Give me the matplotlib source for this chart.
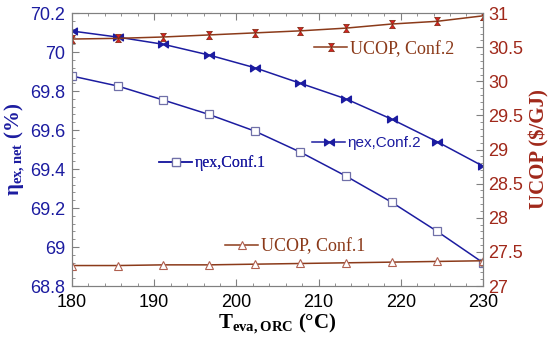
import numpy as np
import matplotlib
matplotlib.use("Agg")
import matplotlib.pyplot as plt
from matplotlib.path import Path
from matplotlib.ticker import MultipleLocator

# data
t_eva = np.linspace(180, 230, 10)
eta_conf1 = [69.877, 69.826, 69.754, 69.68, 69.595, 69.487, 69.364, 69.23, 69.08, 68.92]
eta_conf2 = [70.108, 70.077, 70.04, 69.985, 69.92, 69.84, 69.76, 69.656, 69.54, 69.415]
ucop_conf1 = [27.30, 27.30, 27.31, 27.31, 27.32, 27.33, 27.34, 27.35, 27.36, 27.37]
ucop_conf2 = [30.62, 30.63, 30.65, 30.68, 30.71, 30.74, 30.78, 30.84, 30.88, 30.96]

blue = "#1c1ca0"
brown = "#8b3a1a"
red_lbl = "#a0281a"

plt.rcParams["mathtext.fontset"] = "custom"
plt.rcParams["mathtext.rm"] = "Liberation Serif"
plt.rcParams["mathtext.bf"] = "Liberation Serif:bold"

# bowtie markers
bowtie_h = Path([(-1, -0.7), (0, 0), (-1, 0.7), (-1, -0.7),
                 (1, -0.7), (0, 0), (1, 0.7), (1, -0.7)],
                [1, 2, 2, 79, 1, 2, 2, 79])
bowtie_v = Path([(-0.7, -1), (0, 0), (0.7, -1), (-0.7, -1),
                 (-0.7, 1), (0, 0), (0.7, 1), (-0.7, 1)],
                [1, 2, 2, 79, 1, 2, 2, 79])

fig = plt.figure(figsize=(5.5, 3.45), dpi=100)
ax = fig.add_axes([0.131, 0.171, 0.747, 0.791])
ax2 = ax.twinx()

l1, = ax.plot(t_eva, eta_conf1, color=blue, lw=1.1, marker="s", ms=6,
              mfc="white", mec="#7070a8", mew=0.9, label="ηex,Conf.1")
l2, = ax.plot(t_eva, eta_conf2, color=blue, lw=1.1, marker=bowtie_h, ms=7,
              mfc=blue, mec=blue, label="ηex,Conf.2")
l3, = ax2.plot(t_eva, ucop_conf1, color=brown, lw=1.1, marker="^", ms=5.5,
               mfc="white", mec="#b06050", mew=0.8, label="UCOP, Conf.1")
l4, = ax2.plot(t_eva, ucop_conf2, color=brown, lw=1.1, marker=bowtie_v, ms=6,
               mfc="#d82020", mec="#7a2a10", mew=0.5, label="UCOP, Conf.2")

ax.set_xlim(180, 230)
ax.set_ylim(68.8, 70.2)
ax2.set_ylim(27, 31)
ax.xaxis.set_major_locator(MultipleLocator(10))
ax.xaxis.set_minor_locator(MultipleLocator(2))
ax.yaxis.set_minor_locator(MultipleLocator(0.04))
ax2.yaxis.set_minor_locator(MultipleLocator(0.1))

ax.set_yticks(np.arange(68.8, 70.21, 0.2))
ax.set_yticklabels(["68.8", "69", "69.2", "69.4", "69.6", "69.8", "70", "70.2"])
ax2.set_yticks(np.arange(27, 31.01, 0.5))
ax2.set_yticklabels(["27", "27.5", "28", "28.5", "29", "29.5", "30", "30.5", "31"])

ax.tick_params(axis="x", which="both", direction="in", top=True, colors="#808080",
               labelcolor="black", labelsize=13, pad=6)
ax.tick_params(axis="x", which="major", length=5)
ax.tick_params(axis="x", which="minor", length=2.5)
ax.tick_params(axis="y", which="both", direction="in", colors="#808080",
               labelcolor=blue, labelsize=13, pad=5)
ax.tick_params(axis="y", which="major", length=5)
ax.tick_params(axis="y", which="minor", length=2.5)
ax2.tick_params(axis="y", which="both", direction="in", colors="#808080",
                labelcolor=red_lbl, labelsize=13, pad=4)
ax2.tick_params(axis="y", which="major", length=5)
ax2.tick_params(axis="y", which="minor", length=2.5)
for lab in ax.get_xticklabels() + ax.get_yticklabels() + ax2.get_yticklabels():
    lab.set_family("Liberation Sans")
for a in (ax, ax2):
    for s in a.spines.values():
        s.set_color("#808080")

ax.set_xlabel(r"T$_{\mathbf{eva,ORC}}$ (°C)", family="Liberation Serif",
              fontweight="bold", fontsize=15, labelpad=0)
ax.set_ylabel(r"η$_{\mathbf{ex,net}}$ (%)", family="Liberation Serif",
              fontweight="bold", fontsize=15, color=blue, labelpad=2)
ax2.set_ylabel(r"UCOP (\$/GJ)", family="Liberation Serif",
               fontweight="bold", fontsize=15, color=red_lbl, labelpad=4)

# in-plot labels as single-entry legends
def tag(a, handle, x, y, color, family, size):
    leg = a.legend(handles=[handle], loc="center left", bbox_to_anchor=(x, y),
                   frameon=False, borderpad=0, borderaxespad=0,
                   handlelength=24.0 / size, handletextpad=0.15,
                   prop={"family": family, "size": size})
    leg.get_texts()[0].set_color(color)
    a.add_artist(leg)

tag(ax2, l4, 0.589, 0.868, brown, "Liberation Serif", 13)
tag(ax2, l3, 0.372, 0.143, brown, "Liberation Serif", 13)
tag(ax2, l2, 0.584, 0.524, blue, "Liberation Sans", 11)
tag(ax2, l1, 0.212, 0.45, blue, "Liberation Serif", 11.5)

fig.savefig("out.png", dpi=100)
